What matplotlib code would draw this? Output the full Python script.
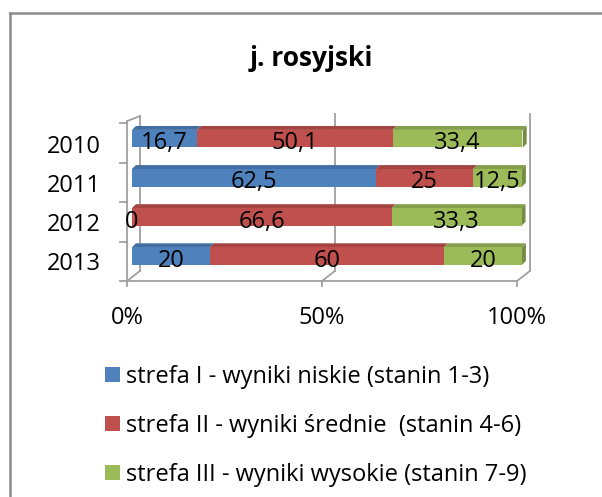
import matplotlib
matplotlib.use("Agg")
import matplotlib.pyplot as plt
from matplotlib.patches import Polygon, Patch
from matplotlib.lines import Line2D
import matplotlib.colors as mcolors

plt.rcParams['font.family'] = ['Open Sans', 'DejaVu Sans']

# Data
title = "j. rosyjski"
years = ["2010", "2011", "2012", "2013"]
strefa_I = [16.7, 62.5, 0, 20]
strefa_II = [50.1, 25, 66.6, 60]
strefa_III = [33.4, 12.5, 33.3, 20]
series_labels = ["strefa I - wyniki niskie (stanin 1-3)",
                 "strefa II - wyniki średnie  (stanin 4-6)",
                 "strefa III - wyniki wysokie (stanin 7-9)"]
colors = ["#4F81BD", "#C0504D", "#9BBB59"]
x_ticks = [0, 50, 100]
x_tick_labels = ["0%", "50%", "100%"]


def shade(c, f):
    r, g, b = mcolors.to_rgb(c)
    return (r * f, g * f, b * f)


fig = plt.figure(figsize=(6.02, 4.97), dpi=100)

# outer chart frame (only left and top edges are visible)
frame_kw = dict(color="#8c8c8c", lw=1.8, transform=fig.transFigure)
fig.add_artist(Line2D([10 / 602, 10 / 602], [0, 1 - 13 / 497], **frame_kw))
fig.add_artist(Line2D([10 / 602, 1], [1 - 13 / 497, 1 - 13 / 497], **frame_kw))

fig.text(311 / 602, 1 - 59 / 497, title, ha="center", va="center",
         fontsize=19, fontweight="bold")

ax = fig.add_axes([132 / 602, 1 - 275.55 / 497, 390 / 602, 156.4 / 497])
ax.set_xlim(0, 100)
ax.set_ylim(3.5, -0.5)
ax.axis("off")

# 3D walls geometry (in data units)
front_dx = -1.28
back_dx = 2.05
front_top, front_bot = -0.45, 3.64
back_top, back_bot = -0.63, 3.38
wall = dict(color="#a0a0a0", lw=1.3, clip_on=False, zorder=1)

# back wall lines
ax.plot([back_dx, back_dx], [back_top + 0.05, back_bot], **wall)
for t in x_ticks[1:]:
    ax.plot([t + back_dx, t + back_dx], [back_top, back_bot], **wall)
# floor connectors
for t in x_ticks:
    ax.plot([t + front_dx, t + back_dx], [front_bot, back_bot], **wall)
ax.plot([front_dx, back_dx], [front_top, back_top + 0.05], **wall)
# front axes
ax.plot([front_dx, front_dx], [front_top, front_bot], **wall)
ax.plot([front_dx, 100 + front_dx], [front_bot, front_bot], **wall)
for t in x_ticks:
    ax.plot([t + front_dx, t + front_dx], [front_bot, front_bot + 0.14], **wall)
step = (front_bot - front_top) / len(years)
for k in range(len(years) + 1):
    yk = front_top + 0.05 + k * (step - 0.01)
    ax.plot([front_dx - 1.8, front_dx], [yk, yk], **wall)

# bars
h = 0.45
ddx, ddy = 1.0, 0.1
ypos = list(range(len(years)))
lefts = [0] * len(years)
handles = []
for vals, col, lab in zip([strefa_I, strefa_II, strefa_III], colors, series_labels):
    bars = ax.barh(ypos, vals, left=lefts, height=h, color=col, zorder=3)
    handles.append(Patch(facecolor=col, label=lab))
    for i, (l, v) in enumerate(zip(lefts, vals)):
        yt = i - h / 2
        if v > 0:
            ax.add_patch(Polygon([(l, yt), (l + v, yt), (l + v + ddx, yt - ddy),
                                  (l + ddx, yt - ddy)], closed=True,
                                 facecolor=shade(col, 0.85), edgecolor="none",
                                 zorder=2.5, clip_on=False))
        txt = f"{v:g}".replace(".", ",")
        ax.text(l + v / 2, i + 0.12, txt, ha="center", va="center",
                fontsize=17, zorder=5)
    lefts = [a + b for a, b in zip(lefts, vals)]

# right side faces
for i, total in enumerate(lefts):
    yt, yb = i - h / 2, i + h / 2
    ax.add_patch(Polygon([(total, yt), (total + ddx, yt - ddy),
                          (total + ddx, yb - ddy), (total, yb)], closed=True,
                         facecolor=shade(colors[2], 0.75), edgecolor="none",
                         zorder=2.5, clip_on=False))

# tick labels
for i, y in enumerate(years):
    ax.text(-7.95, i + 0.2, y, ha="right", va="center", fontsize=17)
for t, lab in zip(x_ticks, x_tick_labels):
    ax.text(t + front_dx, 4.58, lab, ha="center", va="center", fontsize=17)

fig.legend(handles=handles, loc="upper left", bbox_to_anchor=(105 / 602, 1 - 365 / 497),
           frameon=False, fontsize=17, handlelength=0.62, handleheight=0.62,
           handletextpad=0.25, labelspacing=1.05, borderaxespad=0, borderpad=0)

fig.savefig("out.png", dpi=100)
